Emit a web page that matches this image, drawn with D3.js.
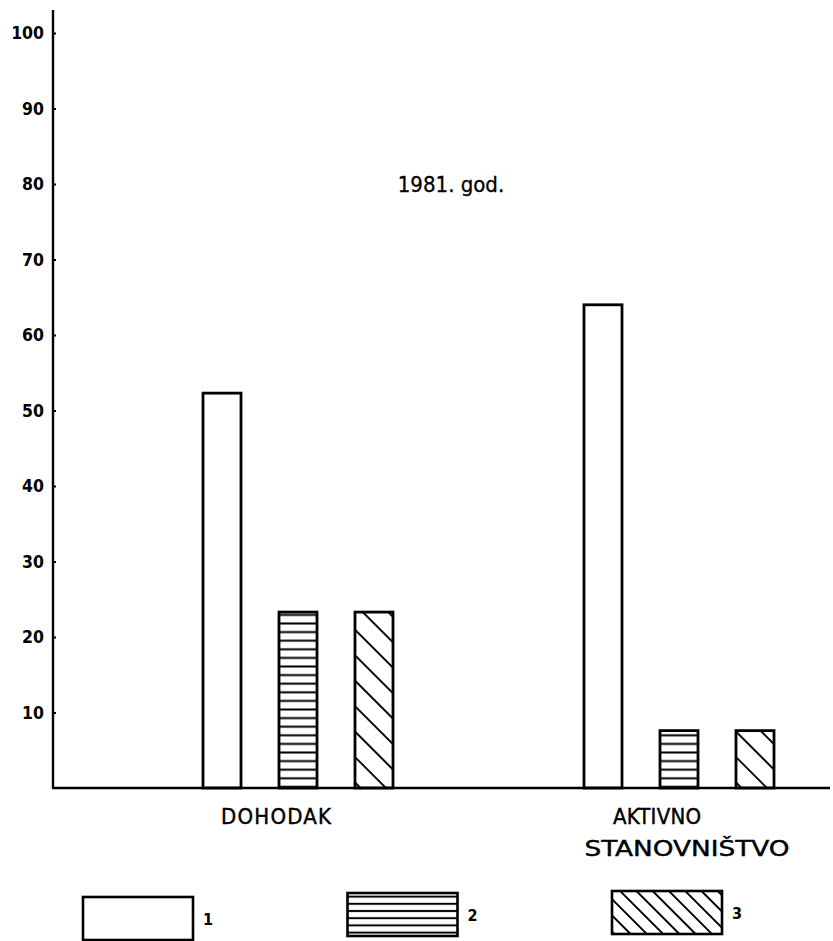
<!DOCTYPE html>
<html>
<head>
<meta charset="utf-8">
<script src="https://cdn.jsdelivr.net/npm/d3@7"></script>
<style>
  body { margin: 0; background: #fff; }
  svg { display: block; }
</style>
</head>
<body>
<script>
const width = 833, height = 941;

// data (percent)
const categories = ["DOHODAK", "AKTIVNO STANOVNIŠTVO"];
const series = ["1", "2", "3"];
const values = [
  [52.3, 23.3, 23.3],
  [64.0, 7.6, 7.6]
];
const yTicks = [10, 20, 30, 40, 50, 60, 70, 80, 90, 100];
const title = "1981. god.";

const font = "'DejaVu Sans Condensed', 'DejaVu Sans', sans-serif";

const svg = d3.select("body").append("svg")
    .attr("width", width)
    .attr("height", height);

const defs = svg.append("defs");

function hLines(id, gap) {
  const p = defs.append("pattern")
      .attr("id", id)
      .attr("patternUnits", "userSpaceOnUse")
      .attr("width", 10).attr("height", gap);
  p.append("rect").attr("width", 10).attr("height", gap).attr("fill", "#fff");
  p.append("line")
      .attr("x1", 0).attr("x2", 10)
      .attr("y1", gap / 2).attr("y2", gap / 2)
      .attr("stroke", "#000").attr("stroke-width", 2);
}
function diag(id, gap) {
  const p = defs.append("pattern")
      .attr("id", id)
      .attr("patternUnits", "userSpaceOnUse")
      .attr("width", 10).attr("height", gap)
      .attr("patternTransform", "rotate(45)");
  p.append("rect").attr("width", 10).attr("height", gap).attr("fill", "#fff");
  p.append("line")
      .attr("x1", 0).attr("x2", 10)
      .attr("y1", gap / 2).attr("y2", gap / 2)
      .attr("stroke", "#000").attr("stroke-width", 1.9);
}
hLines("hl", 8.6);
diag("dg", 18);
hLines("hlLeg", 7.2);
diag("dgLeg", 11.5);

const fills = ["#fff", "url(#hl)", "url(#dg)"];
const legFills = ["#fff", "url(#hlLeg)", "url(#dgLeg)"];

const y = d3.scaleLinear()
    .domain([0, 100])
    .range([788, 33]);

const x0 = d3.scalePoint()
    .domain(categories)
    .range([298, 679]);

const x1 = d3.scaleBand()
    .domain(series)
    .range([-95, 95])
    .paddingInner(0.5);

// bars
const groups = svg.append("g")
  .selectAll("g")
  .data(categories)
  .join("g")
    .attr("transform", d => `translate(${x0(d)},0)`);

groups.selectAll("rect")
  .data((d, i) => values[i].map((v, j) => ({ s: series[j], v, j })))
  .join("rect")
    .attr("x", d => x1(d.s))
    .attr("y", d => y(d.v))
    .attr("width", x1.bandwidth())
    .attr("height", d => y(0) - y(d.v))
    .attr("fill", d => fills[d.j])
    .attr("stroke", "#000")
    .attr("stroke-width", 2.8);

// axes
svg.append("g")
    .attr("transform", "translate(53,0)")
    .call(d3.axisRight(y).tickValues(yTicks).tickSize(3).tickSizeOuter(0).tickFormat(""))
    .call(g => g.select(".domain").attr("d", `M0,${y(0)}V10`).attr("stroke-width", 2.4))
    .call(g => g.selectAll(".tick line").attr("stroke-width", 2));

svg.append("g")
  .selectAll("text")
  .data(yTicks)
  .join("text")
    .attr("x", 44)
    .attr("y", d => y(d))
    .attr("dy", "0.36em")
    .attr("text-anchor", "end")
    .style("font", `bold 17.5px ${font}`)
    .text(d => d);

svg.append("line")
    .attr("x1", 52).attr("x2", 830)
    .attr("y1", y(0)).attr("y2", y(0))
    .attr("stroke", "#000")
    .attr("stroke-width", 2.4);

// category labels (line widths as measured on the picture)
const labelWidths = { "DOHODAK": 110, "AKTIVNO": 88, "STANOVNIŠTVO": 205 };
svg.append("g")
  .selectAll("text")
  .data(categories)
  .join("text")
    .attr("y", 824)
    .attr("text-anchor", "middle")
    .style("font", `22px ${font}`)
    .style("stroke", "#000")
    .style("stroke-width", 0.4)
    .each(function (d) {
      const words = d.split(" ");
      d3.select(this).selectAll("tspan")
        .data(words)
        .join("tspan")
          .attr("x", (w, i) => x0(d) - (i === 0 ? 22 : -8))
          .attr("dy", (w, i) => i === 0 ? 0 : 32)
          .attr("textLength", w => labelWidths[w])
          .attr("lengthAdjust", (w, i) => i === 0 ? "spacing" : "spacingAndGlyphs")
          .text(w => w);
    });

svg.append("text")
    .attr("x", 451)
    .attr("y", 192)
    .attr("text-anchor", "middle")
    .style("font", `22px ${font}`)
    .style("stroke", "#000")
    .style("stroke-width", 0.3)
    .text(title);

// legend
const legX = d3.scalePoint()
    .domain(series)
    .range([83, 612]);
const legY = [897, 893, 891];

const leg = svg.append("g")
  .selectAll("g")
  .data(series)
  .join("g")
    .attr("transform", (d, i) => `translate(${legX(d)},${legY[i]})`);

leg.append("rect")
    .attr("width", 110)
    .attr("height", 43)
    .attr("fill", (d, i) => legFills[i])
    .attr("stroke", "#000")
    .attr("stroke-width", 2.6);

leg.append("text")
    .attr("x", 120)
    .attr("y", 22)
    .attr("dy", "0.36em")
    .style("font", `bold 16px ${font}`)
    .text(d => d);
</script>
</body>
</html>
